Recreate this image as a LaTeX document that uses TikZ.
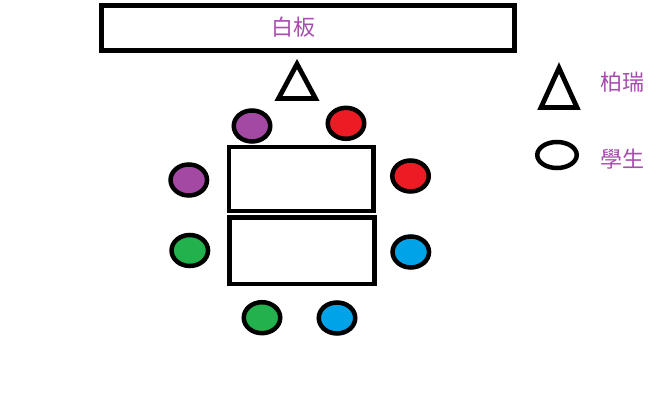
\documentclass[tikz,border=0pt]{standalone}
\usepackage{fontspec}
\newfontfamily\cjk{Noto Sans CJK TC}
\usetikzlibrary{shapes.geometric}
\definecolor{ppurple}{HTML}{A349A4}
\definecolor{pred}{HTML}{ED1C24}
\definecolor{pgreen}{HTML}{22B14C}
\definecolor{pblue}{HTML}{00A2E8}
\definecolor{ptext}{HTML}{A84CB0}
\tikzset{
  seat/.style={ellipse, draw=black, line width=4.5pt, inner sep=0pt, minimum width=36.5pt, minimum height=31pt},
  deskbox/.style={draw=black, line width=4.5pt, inner sep=0pt},
  lbl/.style={font=\cjk\fontsize{22}{25}\selectfont, text=ptext, inner sep=0pt},
  tri/.style={draw=black, line width=4.8pt, line join=miter}
}
\begin{document}
\begin{tikzpicture}[x=1pt,y=-1pt]
\useasboundingbox (0,0) rectangle (656,404);
\fill[white] (0,0) rectangle (656,404);
% whiteboard
\draw[deskbox, line width=5pt] (101.5,5.5) rectangle (514,50.2);
\node[lbl] (wb) at (293,27) {白板};
% teacher
\draw[tri] (297,64) -- (315.5,98.5) -- (278.5,98.5) -- cycle;
% tables
\draw[deskbox] (229,147) rectangle (373.5,211);
\draw[deskbox] (229.7,217.5) rectangle (374.3,284);
% seats
\node[seat, fill=ppurple] (s1) at (252,126) {};
\node[seat, fill=pred] (s2) at (346,123.3) {};
\node[seat, fill=ppurple] (s3) at (188.8,180) {};
\node[seat, fill=pred] (s4) at (410.5,176) {};
\node[seat, fill=pgreen] (s5) at (189.8,250.5) {};
\node[seat, fill=pblue] (s6) at (410.8,252) {};
\node[seat, fill=pgreen] (s7) at (262,317.7) {};
\node[seat, fill=pblue] (s8) at (337,318) {};
% legend
\draw[tri] (559,68) -- (577,107.5) -- (541,107.5) -- cycle;
\node[lbl] (l1) at (622,82) {柏瑞};
\node[seat, fill=white, minimum width=39.5pt, minimum height=26pt] (lc) at (557,155) {};
\node[lbl] (l2) at (622,159) {學生};
\end{tikzpicture}
\end{document}
